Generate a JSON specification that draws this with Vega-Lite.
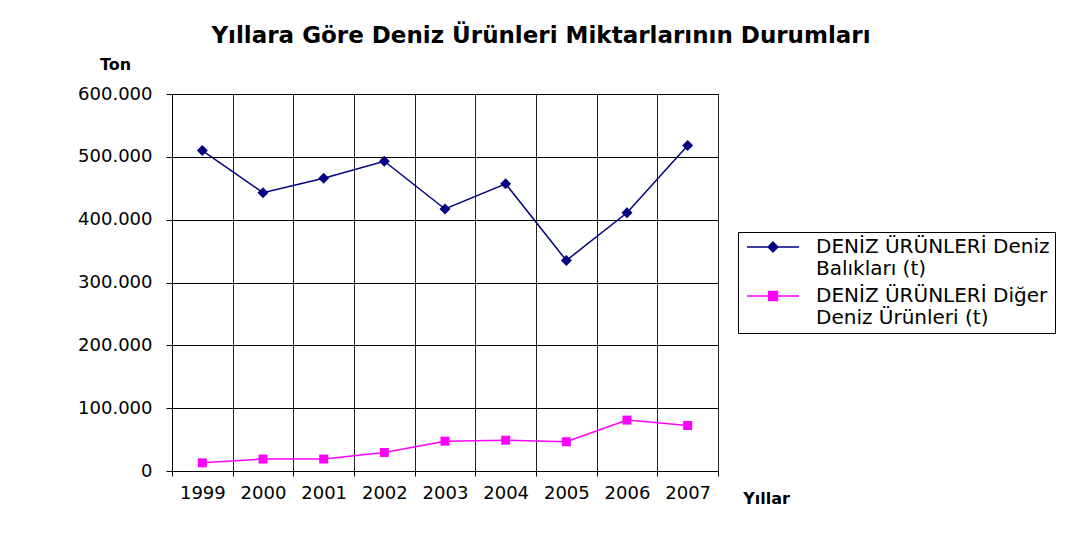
{
  "$schema": "https://vega.github.io/schema/vega-lite/v6.json",
  "width": 546,
  "height": 377,
  "autosize": {"type": "none"},
  "padding": {"left": 172, "top": 94, "right": 350, "bottom": 79},
  "background": "white",
  "title": {
    "text": "Yıllara Göre Deniz Ürünleri Miktarlarının Durumları",
    "font": "DejaVu Sans",
    "fontSize": 23,
    "fontWeight": "bold",
    "color": "#000000",
    "anchor": "middle",
    "dx": 96,
    "offset": 8
  },
  "data": {
    "values": [
      {"year": "1999", "series": "DENİZ ÜRÜNLERİ Deniz Balıkları (t)", "value": 510000},
      {"year": "2000", "series": "DENİZ ÜRÜNLERİ Deniz Balıkları (t)", "value": 443000},
      {"year": "2001", "series": "DENİZ ÜRÜNLERİ Deniz Balıkları (t)", "value": 466000},
      {"year": "2002", "series": "DENİZ ÜRÜNLERİ Deniz Balıkları (t)", "value": 493000},
      {"year": "2003", "series": "DENİZ ÜRÜNLERİ Deniz Balıkları (t)", "value": 417000},
      {"year": "2004", "series": "DENİZ ÜRÜNLERİ Deniz Balıkları (t)", "value": 457000},
      {"year": "2005", "series": "DENİZ ÜRÜNLERİ Deniz Balıkları (t)", "value": 335000},
      {"year": "2006", "series": "DENİZ ÜRÜNLERİ Deniz Balıkları (t)", "value": 411000},
      {"year": "2007", "series": "DENİZ ÜRÜNLERİ Deniz Balıkları (t)", "value": 518000},
      {"year": "1999", "series": "DENİZ ÜRÜNLERİ Diğer Deniz Ürünleri (t)", "value": 13000},
      {"year": "2000", "series": "DENİZ ÜRÜNLERİ Diğer Deniz Ürünleri (t)", "value": 19000},
      {"year": "2001", "series": "DENİZ ÜRÜNLERİ Diğer Deniz Ürünleri (t)", "value": 19000},
      {"year": "2002", "series": "DENİZ ÜRÜNLERİ Diğer Deniz Ürünleri (t)", "value": 29500},
      {"year": "2003", "series": "DENİZ ÜRÜNLERİ Diğer Deniz Ürünleri (t)", "value": 47500},
      {"year": "2004", "series": "DENİZ ÜRÜNLERİ Diğer Deniz Ürünleri (t)", "value": 49000},
      {"year": "2005", "series": "DENİZ ÜRÜNLERİ Diğer Deniz Ürünleri (t)", "value": 46500},
      {"year": "2006", "series": "DENİZ ÜRÜNLERİ Diğer Deniz Ürünleri (t)", "value": 81000},
      {"year": "2007", "series": "DENİZ ÜRÜNLERİ Diğer Deniz Ürünleri (t)", "value": 72500}
    ]
  },
  "encoding": {
    "x": {
      "field": "year",
      "type": "ordinal",
      "scale": {"type": "band", "paddingInner": 0, "paddingOuter": 0},
      "axis": {
        "title": "Yıllar",
        "titleFont": "DejaVu Sans",
        "titleFontSize": 16,
        "titleFontWeight": "bold",
        "titleColor": "#000000",
        "titleAngle": 0,
        "titleAlign": "center",
        "titleBaseline": "middle",
        "titleX": 594,
        "titleY": 27,
        "labelAngle": 0,
        "labelFont": "DejaVu Sans",
        "labelFontSize": 18,
        "labelColor": "#000000",
        "labelPadding": 8,
        "tickBand": "extent",
        "tickSize": 5,
        "tickColor": "#000000",
        "domainColor": "#000000",
        "grid": true,
        "gridColor": "#222222",
        "gridWidth": 1
      }
    },
    "y": {
      "field": "value",
      "type": "quantitative",
      "scale": {"domain": [0, 600000], "nice": false},
      "axis": {
        "title": "Ton",
        "titleFont": "DejaVu Sans",
        "titleFontSize": 16,
        "titleFontWeight": "bold",
        "titleColor": "#000000",
        "titleAngle": 0,
        "titleAlign": "center",
        "titleBaseline": "middle",
        "titleX": -57,
        "titleY": -30,
        "values": [0, 100000, 200000, 300000, 400000, 500000, 600000],
        "labelExpr": "replace(format(datum.value, ','), ',', '.')",
        "labelFont": "DejaVu Sans",
        "labelFontSize": 18,
        "labelColor": "#000000",
        "labelPadding": 14,
        "tickSize": 6,
        "tickColor": "#000000",
        "domainColor": "#000000",
        "grid": true,
        "gridColor": "#000000",
        "gridWidth": 1
      }
    },
    "color": {
      "field": "series",
      "type": "nominal",
      "scale": {
        "domain": ["DENİZ ÜRÜNLERİ Deniz Balıkları (t)", "DENİZ ÜRÜNLERİ Diğer Deniz Ürünleri (t)"],
        "range": ["#000080", "#FF00FF"]
      },
      "legend": {
        "title": null,
        "orient": "none",
        "legendX": 566,
        "legendY": 138,
        "strokeColor": "#000000",
        "fillColor": "#ffffff",
        "padding": 5,
        "symbolSize": 100,
        "symbolStrokeWidth": 1.3,
        "labelFont": "DejaVu Sans",
        "labelFontSize": 20,
        "labelColor": "#000000",
        "labelLimit": 400,
        "labelOffset": 53,
        "labelBaseline": "middle",
        "rowPadding": 7,
        "labelExpr": "datum.label == 'DENİZ ÜRÜNLERİ Deniz Balıkları (t)' ? ['DENİZ ÜRÜNLERİ Deniz', 'Balıkları (t)'] : ['DENİZ ÜRÜNLERİ Diğer', 'Deniz Ürünleri (t)']",
        "encode": {
          "symbols": {
            "update": {
              "shape": {"signal": "datum.value == 'DENİZ ÜRÜNLERİ Deniz Balıkları (t)' ? 'M-1.2,0H9.2M4,-1L5,0L4,1L3,0Z' : 'M-1.2,0H9.2M3.1,-0.9H4.9V0.9H3.1Z'"},
              "fill": {"signal": "scale('color', datum.value)"},
              "stroke": {"signal": "scale('color', datum.value)"},
              "strokeWidth": {"value": 1.3},
              "opacity": {"value": 1}
            }
          },
          "labels": {
            "update": {
              "lineHeight": {"value": 22}
            }
          }
        }
      }
    }
  },
  "layer": [
    {
      "mark": {"type": "line", "strokeWidth": 1.5}
    },
    {
      "transform": [{"filter": "datum.series == 'DENİZ ÜRÜNLERİ Deniz Balıkları (t)'"}],
      "mark": {"type": "point", "shape": "diamond", "filled": true, "opacity": 1, "size": 120}
    },
    {
      "transform": [{"filter": "datum.series == 'DENİZ ÜRÜNLERİ Diğer Deniz Ürünleri (t)'"}],
      "mark": {"type": "point", "shape": "square", "filled": true, "opacity": 1, "size": 81}
    }
  ],
  "config": {
    "view": {"stroke": "#808080", "strokeWidth": 1},
    "font": "DejaVu Sans"
  }
}
